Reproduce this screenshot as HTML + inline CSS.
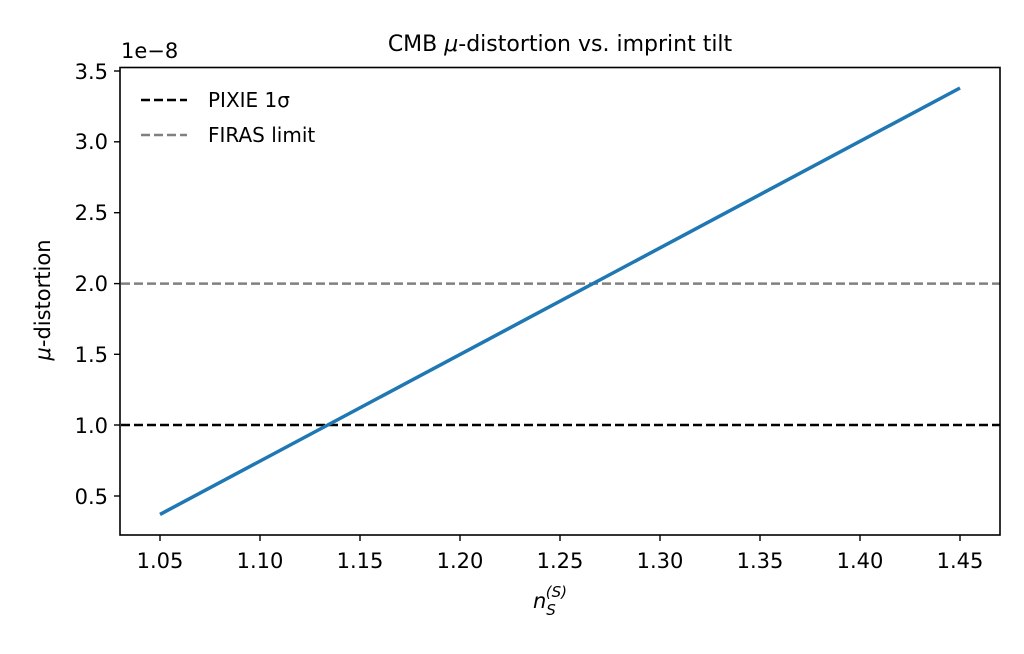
<!DOCTYPE html>
<html><head><style>
body{margin:0;background:#fff;}
svg text{font-family:"DejaVu Sans","Liberation Sans",sans-serif;fill:#000;}
</style></head><body>
<svg width="1024" height="649" xmlns="http://www.w3.org/2000/svg">
<rect width="1024" height="649" fill="#fff"/>
<line x1="121" y1="425" x2="1000" y2="425" stroke="#000" stroke-width="2.5" stroke-dasharray="9,4"/>
<line x1="121" y1="283.6" x2="1000" y2="283.6" stroke="#808080" stroke-width="2.5" stroke-dasharray="9,4"/>
<line x1="160" y1="514.4" x2="960" y2="88" stroke="#1f77b4" stroke-width="3.5"/>
<rect x="120" y="67.5" width="880" height="467.5" fill="none" stroke="#000" stroke-width="1.6"/>
<g stroke="#000" stroke-width="1.4">
<line x1="160" y1="535" x2="160" y2="541"/><line x1="260" y1="535" x2="260" y2="541"/>
<line x1="360" y1="535" x2="360" y2="541"/><line x1="460" y1="535" x2="460" y2="541"/>
<line x1="560" y1="535" x2="560" y2="541"/><line x1="660" y1="535" x2="660" y2="541"/>
<line x1="760" y1="535" x2="760" y2="541"/><line x1="860" y1="535" x2="860" y2="541"/>
<line x1="960" y1="535" x2="960" y2="541"/>
<line x1="114" y1="71" x2="120" y2="71"/><line x1="114" y1="141.8" x2="120" y2="141.8"/>
<line x1="114" y1="212.7" x2="120" y2="212.7"/><line x1="114" y1="283.6" x2="120" y2="283.6"/>
<line x1="114" y1="354.3" x2="120" y2="354.3"/><line x1="114" y1="425" x2="120" y2="425"/>
<line x1="114" y1="496" x2="120" y2="496"/>
</g>
<g font-size="21" text-anchor="middle">
<text x="160" y="568">1.05</text><text x="260" y="568">1.10</text><text x="360" y="568">1.15</text>
<text x="460" y="568">1.20</text><text x="560" y="568">1.25</text><text x="660" y="568">1.30</text>
<text x="760" y="568">1.35</text><text x="860" y="568">1.40</text><text x="960" y="568">1.45</text>
</g>
<g font-size="21" text-anchor="end">
<text x="108" y="79">3.5</text><text x="108" y="149">3.0</text><text x="108" y="220">2.5</text>
<text x="108" y="291">2.0</text><text x="108" y="362">1.5</text><text x="108" y="433">1.0</text>
<text x="108" y="504">0.5</text>
</g>
<text x="121" y="58" font-size="21">1e−8</text>
<text x="560" y="51" font-size="22" text-anchor="middle">CMB <tspan font-style="italic">μ</tspan>-distortion vs. imprint tilt</text>
<text x="550" y="608" font-size="21" text-anchor="middle" font-style="italic">n<tspan font-size="15" dy="7">S</tspan><tspan font-size="15" dx="-10" dy="-18">(S)</tspan></text>
<text transform="translate(50,300) rotate(-90)" font-size="21" text-anchor="middle"><tspan font-style="italic">μ</tspan>-distortion</text>
<line x1="141" y1="100" x2="187" y2="100" stroke="#000" stroke-width="2.5" stroke-dasharray="9,4"/>
<text x="208" y="107" font-size="20">PIXIE 1σ</text>
<line x1="141" y1="135" x2="187" y2="135" stroke="#808080" stroke-width="2.5" stroke-dasharray="9,4"/>
<text x="208" y="142" font-size="20">FIRAS limit</text>
</svg>
</body></html>
